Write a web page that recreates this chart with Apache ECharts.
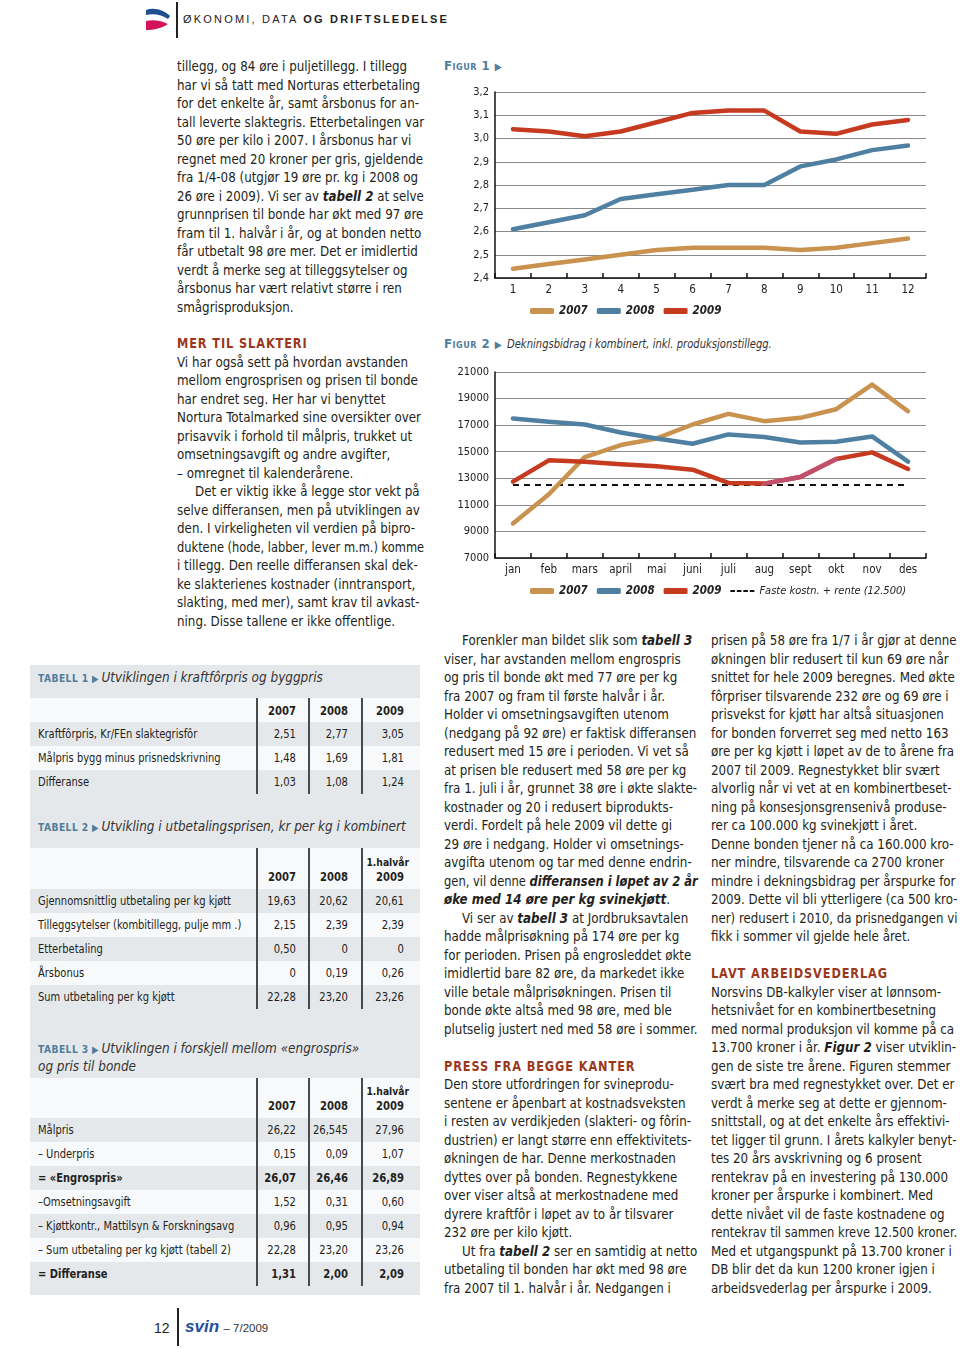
<!DOCTYPE html>
<html><head><meta charset="utf-8">
<script src="https://cdn.jsdelivr.net/npm/echarts@6/dist/echarts.min.js"></script>
<style>
html,body{margin:0;padding:0}
body{width:960px;height:1348px;position:relative;background:#fff;overflow:hidden;
 font-family:"Liberation Sans Narrow","DejaVu Sans Condensed","Liberation Sans",sans-serif;color:#231f20}
.ln{position:absolute;white-space:nowrap;font-size:14px;line-height:18px;height:18px;transform-origin:0 0}
.hd{font-weight:bold;color:#9b381c;letter-spacing:1px;font-size:14px}
.abs{position:absolute}
.band{position:absolute;left:30px;width:390px}
.tl{position:absolute;white-space:nowrap;font-size:12px;line-height:16px;height:16px;transform-origin:0 0}
.num{transform-origin:100% 0}
.tt{color:#4f7d9c;font-weight:bold;font-size:11px;letter-spacing:0.5px}
.tri{color:#4f7d9c;font-size:10px}
.ttl{font-style:italic;font-size:14.5px;color:#333}
.figl{position:absolute;white-space:nowrap;font-size:13px;line-height:16px;color:#4f7d9c;font-weight:bold;font-variant:small-caps;letter-spacing:0.5px}
.sep{position:absolute;width:1.5px;background:#4a4a4a}
</style></head>
<body>
<svg class="abs" style="left:140px;top:4px" width="36" height="32" viewBox="0 0 36 32">
 <path d="M6,6 C14,3 24,6 30,12 L28,15 C22,11 14,9 6,11 Z" fill="#1f4f8e"/>
 <path d="M6,17 C14,15 22,17 28,20 C22,24 14,26 6,26 Z" fill="#d3145a"/>
</svg>
<div class="abs" style="left:176px;top:2px;width:1.5px;height:36px;background:#222"></div>
<div class="abs" style="left:183px;top:13px;font-size:11px;letter-spacing:2.2px;white-space:nowrap;font-family:'Liberation Sans','DejaVu Sans',sans-serif;color:#222">ØKONOMI, DATA <b>OG DRIFTSLEDELSE</b></div>

<div class="abs" style="left:154px;top:1320px;font-size:14px;font-family:'Liberation Sans',sans-serif">12</div>
<div class="abs" style="left:177px;top:1308px;width:1.5px;height:38px;background:#222"></div>
<div class="abs" style="left:185px;top:1317px;white-space:nowrap;font-family:'Liberation Sans',sans-serif"><b><i style="color:#1f4f9c;font-size:17px;font-weight:900">svin</i></b> <span style="font-size:11.5px;color:#333">– 7/2009</span></div>

<div class="figl" style="left:444px;top:58px">Figur 1 <span class="tri">▶</span></div>
<div class="figl" style="left:444px;top:336px">Figur 2 <span class="tri">▶</span> <span style="display:inline-block;transform:scaleX(0.89);transform-origin:0 0;font-variant:normal;font-weight:normal;font-style:italic;color:#333;font-size:12.5px;letter-spacing:0">Dekningsbidrag i kombinert, inkl. produksjonstillegg.</span></div>

<div id="fig1" class="abs" style="left:440px;top:75px;width:520px;height:250px"></div>
<div id="fig2" class="abs" style="left:440px;top:355px;width:520px;height:250px"></div>

<script>
// ---------- DATA ----------
const fig1Categories = ['1','2','3','4','5','6','7','8','9','10','11','12'];
const fig1Series2007 = [2.44,2.46,2.48,2.50,2.52,2.53,2.53,2.53,2.52,2.53,2.55,2.57];
const fig1Series2008 = [2.61,2.64,2.67,2.74,2.76,2.78,2.80,2.80,2.88,2.91,2.95,2.97];
const fig1Series2009 = [3.04,3.03,3.01,3.03,3.07,3.11,3.12,3.12,3.03,3.02,3.06,3.08];

const fig2Categories = ['jan','feb','mars','april','mai','juni','juli','aug','sept','okt','nov','des'];
const fig2Series2007 = [9600,11800,14600,15500,16000,17050,17850,17300,17550,18200,20050,18050];
const fig2Series2008 = [17500,17250,17050,16450,16000,15600,16300,16100,15700,15750,16150,14250];
const fig2Series2009 = [12750,14350,14250,14050,13900,13650,12650,12600,13100,14450,14950,13700];
const fig2FixedCost  = [12500,12500,12500,12500,12500,12500,12500,12500,12500,12500,12500,12500];
const fig2FixedLabel = 'Faste kostn. + rente (12.500)';

const table1Title = 'Utviklingen i kraftfôrpris og byggpris';
const table1Cols = ['2007','2008','2009'];
const table1Rows = ['Kraftfôrpris, Kr/FEn slaktegrisfôr','Målpris bygg minus prisnedskrivning','Differanse'];
const table1Vals = [['2,51','2,77','3,05'],['1,48','1,69','1,81'],['1,03','1,08','1,24']];

const table2Title = 'Utvikling i utbetalingsprisen, kr per kg i kombinert';
const table2Rows = ['Gjennomsnittlig utbetaling per kg kjøtt','Tilleggsytelser (kombitillegg, pulje mm .)','Etterbetaling','Årsbonus','Sum utbetaling per kg kjøtt'];
const table2Vals = [['19,63','20,62','20,61'],['2,15','2,39','2,39'],['0,50','0','0'],['0','0,19','0,26'],['22,28','23,20','23,26']];

const table3Title1 = 'Utviklingen i forskjell mellom «engrospris»';
const table3Title2 = 'og pris til bonde';
const table3Rows = ['Målpris','– Underpris','= «Engrospris»','–Omsetningsavgift','– Kjøttkontr., Mattilsyn & Forskningsavg','– Sum utbetaling per kg kjøtt (tabell 2)','= Differanse'];
const table3Bold = [false,false,true,false,false,false,true];
const table3Vals = [['26,22','26,545','27,96'],['0,15','0,09','1,07'],['26,07','26,46','26,89'],['1,52','0,31','0,60'],['0,96','0,95','0,94'],['22,28','23,20','23,26'],['1,31','2,00','2,09']];

// ---------- TEXT ----------
const col1a = [
'tillegg, og 84 øre i puljetillegg. I tillegg',
'har vi så tatt med Norturas etterbetaling',
'for det enkelte år, samt årsbonus for an-',
'tall leverte slaktegris. Etterbetalingen var',
'50 øre per kilo i 2007. I årsbonus har vi',
'regnet med 20 kroner per gris, gjeldende',
'fra 1/4-08 (utgjør 19 øre pr. kg i 2008 og',
'26 øre i 2009). Vi ser av **tabell 2** at selve',
'grunnprisen til bonde har økt med 97 øre',
'fram til 1. halvår i år, og at bonden netto',
'får utbetalt 98 øre mer. Det er imidlertid',
'verdt å merke seg at tilleggsytelser og',
'årsbonus har vært relativt større i ren',
'smågrisproduksjon.'];
const col1b = [
'#MER TIL SLAKTERI',
'Vi har også sett på hvordan avstanden',
'mellom engrosprisen og prisen til bonde',
'har endret seg. Her har vi benyttet',
'Nortura Totalmarked sine oversikter over',
'prisavvik i forhold til målpris, trukket ut',
'omsetningsavgift og andre avgifter,',
'– omregnet til kalenderårene.',
'>Det er viktig ikke å legge stor vekt på',
'selve differansen, men på utviklingen av',
'den. I virkeligheten vil verdien på bipro-',
'duktene (hode, labber, lever m.m.) komme',
'i tillegg. Den reelle differansen skal dek-',
'ke slakterienes kostnader (inntransport,',
'slakting, med mer), samt krav til avkast-',
'ning. Disse tallene er ikke offentlige.'];
const col2 = [
'>Forenkler man bildet slik som **tabell 3**',
'viser, har avstanden mellom engrospris',
'og pris til bonde økt med 77 øre per kg',
'fra 2007 og fram til første halvår i år.',
'Holder vi omsetningsavgiften utenom',
'(nedgang på 92 øre) er faktisk differansen',
'redusert med 15 øre i perioden. Vi vet så',
'at prisen ble redusert med 58 øre per kg',
'fra 1. juli i år, grunnet 38 øre i økte slakte-',
'kostnader og 20 i redusert biprodukts-',
'verdi. Fordelt på hele 2009 vil dette gi',
'29 øre i nedgang. Holder vi omsetnings-',
'avgifta utenom og tar med denne endrin-',
'gen, vil denne **differansen i løpet av 2 år**',
'**øke med 14 øre per kg svinekjøtt**.',
'>Vi ser av **tabell 3** at Jordbruksavtalen',
'hadde målprisøkning på 174 øre per kg',
'for perioden. Prisen på engrosleddet økte',
'imidlertid bare 82 øre, da markedet ikke',
'ville betale målprisøkningen. Prisen til',
'bonde økte altså med 98 øre, med ble',
'plutselig justert ned med 58 øre i sommer.',
'',
'#PRESS FRA BEGGE KANTER',
'Den store utfordringen for svineprodu-',
'sentene er åpenbart at kostnadsveksten',
'i resten av verdikjeden (slakteri- og fôrin-',
'dustrien) er langt større enn effektivitets-',
'økningen de har. Denne merkostnaden',
'dyttes over på bonden. Regnestykkene',
'over viser altså at merkostnadene med',
'dyrere kraftfôr i løpet av to år tilsvarer',
'232 øre per kilo kjøtt.',
'>Ut fra **tabell 2** ser en samtidig at netto',
'utbetaling til bonden har økt med 98 øre',
'fra 2007 til 1. halvår i år. Nedgangen i'];
const col3 = [
'prisen på 58 øre fra 1/7 i år gjør at denne',
'økningen blir redusert til kun 69 øre når',
'snittet for hele 2009 beregnes. Med økte',
'fôrpriser tilsvarende 232 øre og 69 øre i',
'prisvekst for kjøtt har altså situasjonen',
'for bonden forverret seg med netto 163',
'øre per kg kjøtt i løpet av de to årene fra',
'2007 til 2009. Regnestykket blir svært',
'alvorlig når vi vet at en kombinertbeset-',
'ning på konsesjonsgrensenivå produse-',
'rer ca 100.000 kg svinekjøtt i året.',
'Denne bonden tjener nå ca 160.000 kro-',
'ner mindre, tilsvarende ca 2700 kroner',
'mindre i dekningsbidrag per årspurke for',
'2009. Dette vil bli ytterligere (ca 500 kro-',
'ner) redusert i 2010, da prisnedgangen vi',
'fikk i sommer vil gjelde hele året.',
'',
'#LAVT ARBEIDSVEDERLAG',
'Norsvins DB-kalkyler viser at lønnsom-',
'hetsnivået for en kombinertbesetning',
'med normal produksjon vil komme på ca',
'13.700 kroner i år. **Figur 2** viser utviklin-',
'gen de siste tre årene. Figuren stemmer',
'svært bra med regnestykket over. Det er',
'verdt å merke seg at dette er gjennom-',
'snittstall, og at det enkelte års effektivi-',
'tet ligger til grunn. I årets kalkyler benyt-',
'tes 20 års avskrivning og 6 prosent',
'rentekrav på en investering på 130.000',
'kroner per årspurke i kombinert. Med',
'dette nivået vil de faste kostnadene og',
'rentekrav til sammen kreve 12.500 kroner.',
'Med et utgangspunkt på 13.700 kroner i',
'DB blir det da kun 1200 kroner igjen i',
'arbeidsvederlag per årspurke i 2009.'];

function el(cls, x, y, html, extra){
  const d=document.createElement('div'); d.className=cls;
  d.style.left=x+'px'; d.style.top=y+'px'; d.innerHTML=html;
  if(extra) Object.assign(d.style, extra);
  document.body.appendChild(d); return d;
}
function fit(d, s0, maxW){
  const w=d.offsetWidth; let s=s0;
  if(w*s>maxW) s=maxW/w;
  d.style.transform='scaleX('+s.toFixed(4)+')';
}
function md(s){ return s.replace(/\*\*(.+?)\*\*/g,'<b><i>$1</i></b>'); }
function column(x, y0, lines, maxW){
  lines.forEach((l,i)=>{
    if(l==='') return;
    const y=y0+i*18.5-9;
    if(l[0]==='#') fit(el('ln hd',x,y,l.slice(1)),0.9,maxW);
    else if(l[0]==='>') fit(el('ln',x+18,y,md(l.slice(1))),0.945,maxW-18);
    else fit(el('ln',x,y,md(l)),0.945,maxW);
  });
}
column(177,66,col1a,247);
column(177,343,col1b,247);
column(444,640,col2,254);
column(711,640,col3,246);

// ---------- TABLES ----------
const GRAY='#e5e8eb', WHITE='#f8f9fa';
function band(y,h,c){ const d=document.createElement('div'); d.className='band'; d.style.top=y+'px'; d.style.height=h+'px'; d.style.background=c; document.body.appendChild(d); }
band(665,630,GRAY);
const numRight=[296,348,404];
const sepX=[256,308,361];
function seps(y1,y2){ sepX.forEach(x=>el('sep',x,y1,'',{height:(y2-y1)+'px'})); }
function title(y, num, text){
  const d=el('tl',38,y-8,'<span class="tt">TABELL '+num+'</span> <span class="tri">▶</span> <span class="ttl">'+text+'</span>');
  fit(d,0.925,370);
}
function numCell(ci, yc, txt, bold, right, size){
  const r = right || numRight[ci];
  const d=el('tl num', r-70, yc-8, txt, {width:'70px',textAlign:'right',fontWeight:bold?'bold':'normal',fontSize:(size||12)+'px'});
  d.style.transform='scaleX(0.93)';
}
function dataRows(y0, rows, vals, bolds){
  rows.forEach((r,i)=>{
    const top=y0+i*24; band(top,24, i%2===0?GRAY:WHITE);
  });
  rows.forEach((r,i)=>{
    const yc=y0+i*24+12; const b=bolds&&bolds[i];
    fit(el('tl',38,yc-8,r,b?{fontWeight:'bold'}:null),0.92,205);
    vals[i].forEach((v,ci)=>numCell(ci,yc,v,b));
  });
}
// table 1
title(677,1,table1Title);
band(698,24,WHITE);
table1Cols.forEach((c,ci)=>numCell(ci,711,c,true));
dataRows(722,table1Rows,table1Vals);
seps(698,794);
// table 2
title(826,2,table2Title);
band(848,41,WHITE);
table1Cols.forEach((c,ci)=>{ if(ci<2) numCell(ci,877,c,true); });
numCell(2,863,'1.halvår',true,409,11); numCell(2,877,'2009',true);
dataRows(889,table2Rows,table2Vals);
seps(848,1009);
// table 3
title(1048,3,table3Title1);
fit(el('tl',38,1058,'<span class="ttl">'+table3Title2+'</span>'),0.925,370);
band(1078,40,WHITE);
table1Cols.forEach((c,ci)=>{ if(ci<2) numCell(ci,1106,c,true); });
numCell(2,1092,'1.halvår',true,409,11); numCell(2,1106,'2009',true);
dataRows(1118,table3Rows,table3Vals,table3Bold);
seps(1078,1286);

// ---------- CHARTS ----------
const FONT='"Liberation Sans Narrow","DejaVu Sans Condensed","Liberation Sans",sans-serif';
const C07='#c9924e', C08='#4f80a2', C09='#c63a1f', CPINK='#bf4f6b';
function commonAxis(cats){
  return {
    type:'category', data:cats, boundaryGap:true,
    axisLine:{lineStyle:{color:'#111',width:1.5}},
    axisTick:{show:true,inside:true,length:5,lineStyle:{color:'#111',width:1.5}},
    axisLabel:{color:'#222',fontSize:11.5,margin:6,fontFamily:FONT}
  };
}
function lineSeries(name,data,color){
  return {name, type:'line', data, symbol:'none', smooth:false,
    lineStyle:{color,width:4.5,cap:'round',join:'round'}, itemStyle:{color}};
}
function legendCfg(extra){
  const items=[{name:'2007',icon:'roundRect'},{name:'2008',icon:'roundRect'},{name:'2009',icon:'roundRect'}];
  if(extra) items.push(extra);
  return {top:230,left:90,width:430,padding:0,itemWidth:24,itemHeight:6,itemGap:9,data:items,
    textStyle:{fontFamily:FONT,fontStyle:'italic',fontWeight:'bold',fontSize:11.5,color:'#222'}};
}

const fig1=echarts.init(document.getElementById('fig1'),null,{renderer:'canvas'});
fig1.setOption({
  animation:false,
  textStyle:{fontFamily:FONT},
  grid:{left:55,top:17,width:431,height:186,containLabel:false},
  legend:legendCfg(),
  xAxis:commonAxis(fig1Categories),
  yAxis:{type:'value',min:2.4,max:3.2,interval:0.1,
    axisLine:{show:true,lineStyle:{color:'#111',width:1.5}},axisTick:{show:false},
    splitLine:{lineStyle:{color:'#8a8a8a',width:1}},
    axisLabel:{color:'#222',fontSize:11,margin:6,fontFamily:FONT,formatter:v=>v.toFixed(1).replace('.',',')}},
  series:[lineSeries('2007',fig1Series2007,C07),lineSeries('2008',fig1Series2008,C08),lineSeries('2009',fig1Series2009,C09)]
});

const fig2=echarts.init(document.getElementById('fig2'),null,{renderer:'canvas'});
const pinkPart = fig2Series2009.map((v,i)=> (i>=7 && i<=9) ? v : '-');
fig2.setOption({
  animation:false,
  textStyle:{fontFamily:FONT},
  grid:{left:55,top:17,width:431,height:186,containLabel:false},
  legend:legendCfg({name:fig2FixedLabel,icon:'path://M0,0h5v2h-5z M7,0h5v2h-5z M14,0h5v2h-5z M21,0h5v2h-5z',itemStyle:{color:'#111'},
    textStyle:{fontFamily:FONT,fontStyle:'italic',fontWeight:'normal',fontSize:11,color:'#222'}}),
  xAxis:commonAxis(fig2Categories),
  yAxis:{type:'value',min:7000,max:21000,interval:2000,
    axisLine:{show:true,lineStyle:{color:'#111',width:1.5}},axisTick:{show:false},
    splitLine:{lineStyle:{color:'#8a8a8a',width:1}},
    axisLabel:{color:'#222',fontSize:11,margin:6,fontFamily:FONT,formatter:v=>String(v)}},
  series:[
    {name:fig2FixedLabel,type:'line',data:fig2FixedCost,symbol:'none',lineStyle:{color:'#111',width:2,type:[6,5]},itemStyle:{color:'#111'},z:1},
    lineSeries('2007',fig2Series2007,C07),
    lineSeries('2008',fig2Series2008,C08),
    lineSeries('2009',fig2Series2009,C09),
    Object.assign(lineSeries('2009 ',pinkPart,CPINK),{z:5})
  ]
});
</script>
</body></html>
